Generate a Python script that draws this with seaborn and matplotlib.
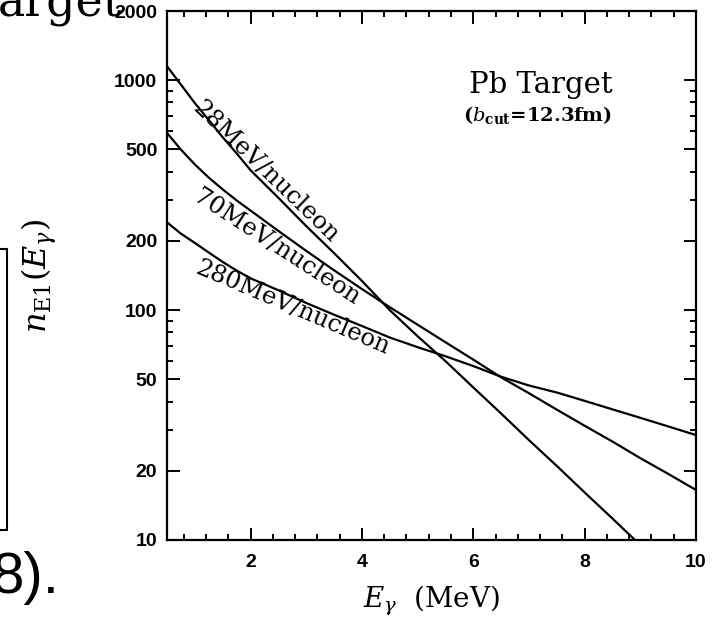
import matplotlib
matplotlib.use("Agg")
import numpy as np
import pandas as pd
import seaborn as sns
import matplotlib.pyplot as plt
from matplotlib.ticker import FixedLocator, LogLocator, MultipleLocator, FuncFormatter, NullFormatter
from matplotlib.lines import Line2D

# ---- data ----
x_28 = [0.5, 0.75, 1.0, 1.25, 1.5, 1.75, 2.0, 2.5, 3.0, 3.5, 4.0, 4.5, 5.0, 5.5, 6.0, 6.5, 7.0, 7.5, 8.0, 8.5, 9.0]
n_28 = [1150, 957, 795, 671, 565, 481, 406, 308, 232, 177, 134, 100, 77, 60, 46.1, 35.5, 27.2, 21.0, 16.1, 12.4, 9.5]

x_70 = [0.5, 0.75, 1.0, 1.25, 1.5, 1.75, 2.0, 2.5, 3.0, 3.5, 4.0, 4.5, 5.0, 5.5, 6.0, 6.5, 7.0, 7.5, 8.0, 8.5, 9.0, 9.5, 10.0]
n_70 = [590, 499, 430, 377, 335, 300, 271, 221, 181, 149, 123.5, 103, 86.4, 72.5, 60.9, 51.0, 43.5, 36.9, 31.4, 26.8, 22.7, 19.4, 16.5]

x_280 = [0.5, 0.75, 1.0, 1.25, 1.5, 1.75, 2.0, 2.5, 3.0, 3.5, 4.0, 4.5, 5.0, 5.5, 6.0, 6.5, 7.0, 7.5, 8.0, 8.5, 9.0, 9.5, 10.0]
n_280 = [241, 215, 196, 178, 162, 148.6, 137.5, 122, 107.4, 95.5, 85.3, 76, 69, 63, 57.1, 51.3, 47.0, 43.8, 40.3, 37.0, 34.0, 31.2, 28.6]

series_names = ["28MeV/nucleon", "70MeV/nucleon", "280MeV/nucleon"]
y_ticks = [10, 20, 50, 100, 200, 500, 1000, 2000]
x_ticks = [2, 4, 6, 8, 10]

df = pd.concat([
    pd.DataFrame({"E": x_28, "n": n_28, "beam": series_names[0]}),
    pd.DataFrame({"E": x_70, "n": n_70, "beam": series_names[1]}),
    pd.DataFrame({"E": x_280, "n": n_280, "beam": series_names[2]}),
])

sns.set_theme(style="ticks")
plt.rcParams["font.family"] = ["DejaVu Serif"]
plt.rcParams["mathtext.fontset"] = "dejavuserif"

W, H = 722, 617
fig = plt.figure(figsize=(W / 100, H / 100), dpi=100)
fig.patch.set_facecolor("white")
ax = fig.add_axes([167 / W, 1 - 540 / H, (696 - 167) / W, (540 - 11) / H])

sns.lineplot(data=df, x="E", y="n", hue="beam", palette=["black"] * 3,
             legend=False, ax=ax, linewidth=1.6, sort=False, estimator=None)

ax.set_yscale("log")
ax.set_xlim(0.5, 10)
ax.set_ylim(10, 2000)

ax.yaxis.set_major_locator(FixedLocator(y_ticks))
ax.yaxis.set_minor_locator(LogLocator(base=10, subs=(3, 4, 6, 7, 8, 9)))
ax.yaxis.set_major_formatter(FuncFormatter(lambda v, p: f"{int(round(v))}"))
ax.yaxis.set_minor_formatter(NullFormatter())
ax.xaxis.set_major_locator(FixedLocator(x_ticks))
ax.xaxis.set_minor_locator(MultipleLocator(0.4))
ax.xaxis.set_major_formatter(FuncFormatter(lambda v, p: f"{int(round(v))}"))

ax.tick_params(which="both", direction="in", top=True, right=True, color="black", width=1.4)
ax.tick_params(which="major", length=9)
ax.tick_params(which="minor", length=4)
ax.tick_params(axis="y", which="major", pad=7)
ax.tick_params(axis="x", which="major", pad=10)
for lab in ax.get_xticklabels() + ax.get_yticklabels():
    lab.set_fontfamily("Liberation Sans")
    lab.set_fontweight("bold")
    lab.set_fontsize(14)
    lab.set_color("black")
for sp in ax.spines.values():
    sp.set_linewidth(1.6)
    sp.set_color("black")

ax.set_xlabel(r"$E_\gamma$  (MeV)", fontsize=20, color="black")
ax.xaxis.set_label_coords(0.5, -0.082)
ax.xaxis.label.set_va("top")
ax.set_ylabel(r"$n_{\mathrm{E1}}(E_\gamma)$", fontsize=23, color="black")
ax.yaxis.set_label_coords(-0.205, 0.5)

# curve labels
ax.text(2.27, 398, "28MeV/nucleon", rotation=-44, rotation_mode="anchor",
        ha="center", va="center", fontsize=17.5, color="black")
ax.text(2.47, 188, "70MeV/nucleon", rotation=-33, rotation_mode="anchor",
        ha="center", va="center", fontsize=17.5, color="black")
ax.text(2.75, 102, "280MeV/nucleon", rotation=-23, rotation_mode="anchor",
        ha="center", va="center", fontsize=17.5, color="black")

ax.text(0.707, 0.860, "Pb Target", transform=ax.transAxes, ha="center", va="center",
        fontsize=21, color="black")
ax.text(0.701, 0.803, r"($b_{\mathbf{cut}}$=12.3fm)", transform=ax.transAxes, ha="center",
        va="center", fontsize=14, fontweight="bold", color="black")

# fragments of the surrounding page
fig.text(-2 / W, 1 - 15 / H, "arget", fontsize=33, ha="left", va="baseline",
         family="DejaVu Serif", color="black")
fig.text(-9 / W, 1 - 593 / H, "8).", fontsize=42, ha="left", va="baseline",
         family="Liberation Sans", color="black")
for (x0, y0, x1, y1) in [(-5, 249, 7, 249), (7, 249, 7, 530), (-5, 530, 7, 530)]:
    fig.add_artist(Line2D([x0 / W, x1 / W], [1 - y0 / H, 1 - y1 / H],
                          transform=fig.transFigure, color="black", linewidth=1.5))

fig.savefig("out.png", dpi=100, facecolor="white")
